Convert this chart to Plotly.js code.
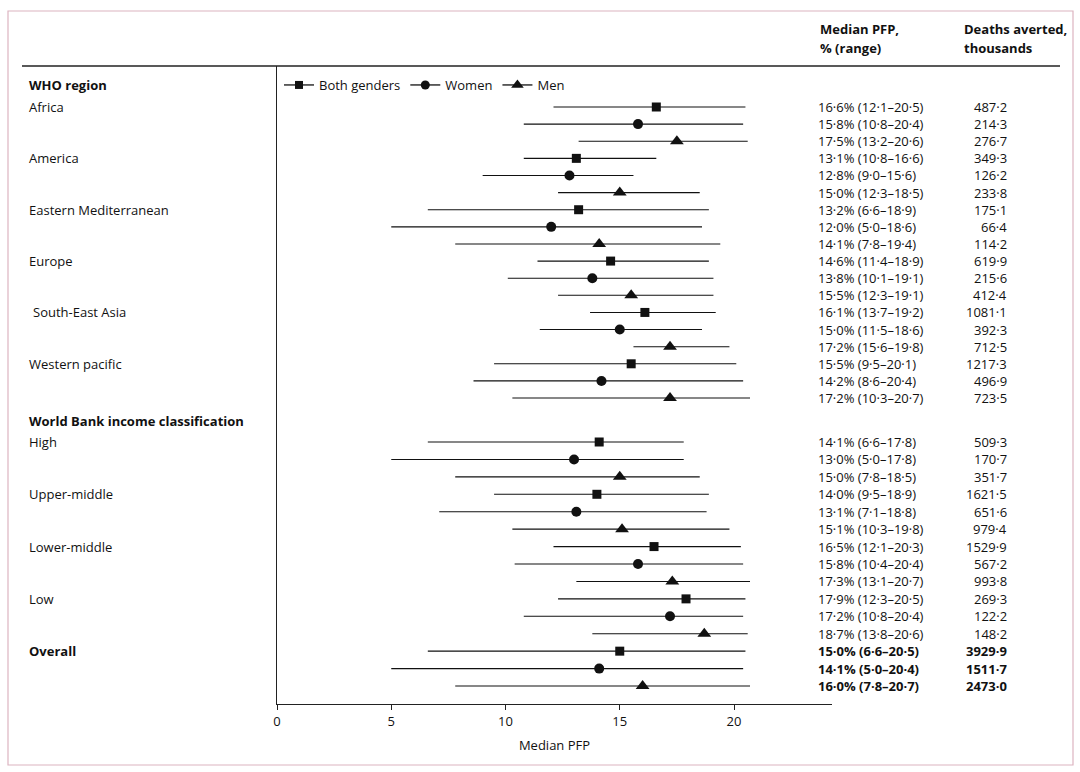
<!DOCTYPE html>
<html>
<head>
<meta charset="utf-8">
<script src="https://cdn.plot.ly/plotly-3.0.1.min.js"></script>
<style>html,body{margin:0;padding:0;background:#fff;}#chart{width:1080px;height:772px;}</style>
</head>
<body>
<div id="chart"></div>
<script>
// ---- data ----
const categories = ["Africa","America","Eastern Mediterranean","Europe"," South-East Asia","Western pacific","High","Upper-middle","Lower-middle","Low","Overall"];
const bothMed   = [16.6,13.1,13.2,14.6,16.1,15.5,14.1,14.0,16.5,17.9,15.0];
const bothLow   = [12.1,10.8, 6.6,11.4,13.7, 9.5, 6.6, 9.5,12.1,12.3, 6.6];
const bothHigh  = [20.5,16.6,18.9,18.9,19.2,20.1,17.8,18.9,20.3,20.5,20.5];
const womenMed  = [15.8,12.8,12.0,13.8,15.0,14.2,13.0,13.1,15.8,17.2,14.1];
const womenLow  = [10.8, 9.0, 5.0,10.1,11.5, 8.6, 5.0, 7.1,10.4,10.8, 5.0];
const womenHigh = [20.4,15.6,18.6,19.1,18.6,20.4,17.8,18.8,20.4,20.4,20.4];
const menMed    = [17.5,15.0,14.1,15.5,17.2,17.2,15.0,15.1,17.3,18.7,16.0];
const menLow    = [13.2,12.3, 7.8,12.3,15.6,10.3, 7.8,10.3,13.1,13.8, 7.8];
const menHigh   = [20.6,18.5,19.4,19.1,19.8,20.7,18.5,19.8,20.7,20.6,20.7];
const bothDeaths  = [487.2,349.3,175.1,619.9,1081.1,1217.3,509.3,1621.5,1529.9,269.3,3929.9];
const womenDeaths = [214.3,126.2,66.4,215.6,392.3,496.9,170.7,651.6,567.2,122.2,1511.7];
const menDeaths   = [276.7,233.8,114.2,412.4,712.5,723.5,351.7,979.4,993.8,148.2,2473.0];
const seriesNames = ["Both genders","Women","Men"];
const sectionHeaders = ["WHO region","World Bank income classification"];
const xTicks = [0,5,10,15,20];

// ---- layout helpers ----
const W = 1080, H = 772;
const mL = 277, mR = 248, mT = 66, mB = 68;
const plotW = W - mL - mR, plotH = H - mT - mB;
const UNIT = 17.12;               // px per row in first section
const SEC2_START = (442 - 107) / UNIT;
const SEC2_STEP = 17.43 / UNIT;
const nWho = 6;
function rowY(k, g){
  return k < nWho ? 3*k + g : SEC2_START + (3*(k - nWho) + g) * SEC2_STEP;
}
const px2paperX = p => (p - mL) / plotW;
const px2paperY = p => (H - mB - p) / plotH;
const fmt = v => v.toFixed(1).replace('.', '·');
const FONT = "Open Sans, Noto Sans, sans-serif";
const FS = 13;
const TXT = '#111';

const series = [
  {name: seriesNames[0], med: bothMed,  lo: bothLow,  hi: bothHigh,  d: bothDeaths,  sym: 'square',      size: 9,  g: 0},
  {name: seriesNames[1], med: womenMed, lo: womenLow, hi: womenHigh, d: womenDeaths, sym: 'circle',      size: 10, g: 1},
  {name: seriesNames[2], med: menMed,   lo: menLow,   hi: menHigh,   d: menDeaths,   sym: 'triangle-up', size: 12, g: 2}
];

const traces = [];
series.forEach(s => {
  traces.push({
    type: 'scatter', mode: 'markers', showlegend: false, hoverinfo: 'skip',
    x: s.med, y: s.med.map((_, k) => rowY(k, s.g)),
    marker: {symbol: s.sym, size: s.size, color: '#111'},
    error_x: {type: 'data', symmetric: false,
      array: s.hi.map((h, k) => h - s.med[k]),
      arrayminus: s.lo.map((l, k) => s.med[k] - l),
      width: 0, thickness: 1.1, color: '#111'}
  });
});
// legend entries
series.forEach(s => {
  traces.push({
    type: 'scatter', mode: 'lines+markers', name: s.name,
    x: [null], y: [null],
    line: {color: '#111', width: 1.3},
    marker: {symbol: s.sym, size: s.size - 1, color: '#111'}
  });
});

const ann = [];
// category labels
categories.forEach((c, k) => {
  ann.push({xref: 'paper', yref: 'y', x: px2paperX(c.startsWith(' ') ? 31 : 27), y: rowY(k, 0),
    text: k === categories.length - 1 ? '<b>' + c + '</b>' : c.trim(),
    showarrow: false, xanchor: 'left', yanchor: 'middle', font: {family: FONT, size: FS, color: TXT}});
});
// section headers
ann.push({xref: 'paper', yref: 'y', x: px2paperX(27), y: rowY(0, 0) - 22 / UNIT, text: '<b>' + sectionHeaders[0] + '</b>',
  showarrow: false, xanchor: 'left', yanchor: 'middle', font: {family: FONT, size: FS, color: TXT}});
ann.push({xref: 'paper', yref: 'y', x: px2paperX(27), y: rowY(nWho, 0) - 21 / UNIT, text: '<b>' + sectionHeaders[1] + '</b>',
  showarrow: false, xanchor: 'left', yanchor: 'middle', font: {family: FONT, size: FS, color: TXT}});
// right columns
series.forEach(s => {
  s.med.forEach((m, k) => {
    const bold = k === categories.length - 1;
    const t1 = fmt(m) + '% (' + fmt(s.lo[k]) + '–' + fmt(s.hi[k]) + ')';
    const t2 = fmt(s.d[k]);
    ann.push({xref: 'paper', yref: 'y', x: px2paperX(816), y: rowY(k, s.g),
      text: bold ? '<b>' + t1 + '</b>' : t1, showarrow: false, xanchor: 'left', yanchor: 'middle',
      font: {family: FONT, size: FS, color: TXT}});
    ann.push({xref: 'paper', yref: 'y', x: px2paperX(1009), y: rowY(k, s.g),
      text: bold ? '<b>' + t2 + '</b>' : t2, showarrow: false, xanchor: 'right', yanchor: 'middle',
      font: {family: FONT, size: FS, color: TXT}});
  });
});
// column headers
[["Median PFP,", 818, 29], ["% (range)", 818, 48], ["Deaths averted,", 962, 29], ["thousands", 962, 48]].forEach(h => {
  ann.push({xref: 'paper', yref: 'paper', x: px2paperX(h[1]), y: px2paperY(h[2]), text: '<b>' + h[0] + '</b>',
    showarrow: false, xanchor: 'left', yanchor: 'middle', font: {family: FONT, size: FS, color: TXT}});
});

const shapes = [
  // outer frame
  {type: 'rect', xref: 'paper', yref: 'paper', x0: px2paperX(8), x1: px2paperX(1073), y0: px2paperY(765), y1: px2paperY(11),
    line: {color: '#dcb4c0', width: 1.2}},
  // top rule
  {type: 'line', xref: 'paper', yref: 'paper', x0: px2paperX(22), x1: px2paperX(1060), y0: 1, y1: 1,
    line: {color: '#222', width: 1.3}}
];

const layout = {
  width: W, height: H,
  margin: {l: mL, r: mR, t: mT, b: mB, pad: 0},
  paper_bgcolor: '#fff', plot_bgcolor: '#fff',
  font: {family: FONT, size: FS, color: TXT},
  showlegend: true,
  legend: {orientation: 'h', x: px2paperX(279), y: px2paperY(85), xanchor: 'left', yanchor: 'middle',
    font: {family: FONT, size: FS, color: TXT}, itemwidth: 30, bgcolor: 'rgba(0,0,0,0)', tracegroupgap: 0},
  xaxis: {range: [0, (832 - mL) / 22.85], tickvals: xTicks, ticktext: xTicks.map(String),
    showline: true, linecolor: '#222', linewidth: 1.3, ticks: 'outside', ticklen: 5, tickcolor: '#222',
    showgrid: false, zeroline: false, tickfont: {family: FONT, size: FS, color: TXT},
    title: {text: 'Median PFP', font: {family: FONT, size: FS, color: TXT}, standoff: 12}},
  yaxis: {range: [(704 - 107) / UNIT, -(107 - 66) / UNIT], showline: true, linecolor: '#222', linewidth: 1.3,
    showticklabels: false, ticks: '', showgrid: false, zeroline: false},
  annotations: ann,
  shapes: shapes
};

Plotly.newPlot('chart', traces, layout, {displayModeBar: false, staticPlot: true});
</script>
</body>
</html>
